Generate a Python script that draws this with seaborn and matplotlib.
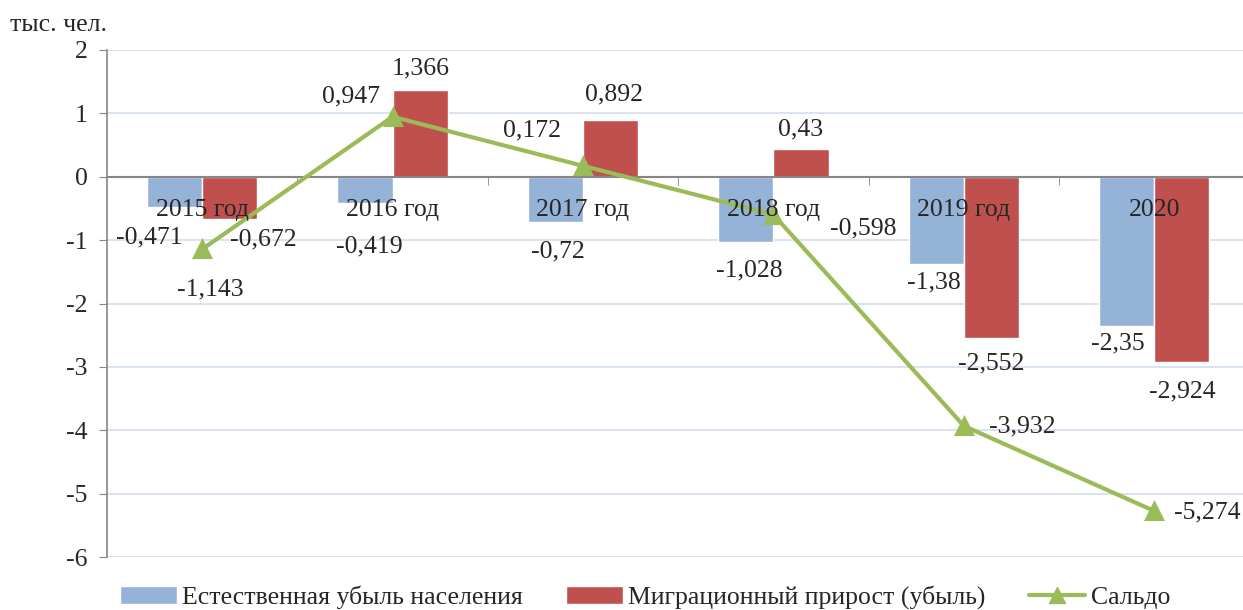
import pandas as pd
import matplotlib.pyplot as plt
from matplotlib.lines import Line2D
from matplotlib.patches import Patch
import numpy as np
import seaborn as sns

# data (тыс. чел.)
years = ['2015 год', '2016 год', '2017 год', '2018 год', '2019 год', '2020']
natural = [-0.471, -0.419, -0.72, -1.028, -1.38, -2.35]
migration = [-0.672, 1.366, 0.892, 0.43, -2.552, -2.924]
saldo = [-1.143, 0.947, 0.172, -0.598, -3.932, -5.274]
series_names = ['Естественная убыль населения', 'Миграционный прирост (убыль)', 'Сальдо']

blue = '#95B3D7'
red = '#C0504D'
green = '#9BBB59'
grey = '#868686'

# label offsets in pixels (dx, dy)
off_nat = [(-25, -31), (4, -43), (2, -29), (3, -29), (-2, -18), (-9, -18)]
off_mig = [(33, -20), (0, 22), (3, 26), (0, 20), (0, -25), (0, -29)]
off_sal = [(8, -40), (-42, 20), (-51, 35), (90, -14), (58, -1), (53, -1)]

df = pd.DataFrame({
    'year': years * 2,
    'value': natural + migration,
    'series': [series_names[0]] * len(years) + [series_names[1]] * len(years),
})

sns.set_style('white')
plt.rcParams['font.family'] = ['Liberation Serif', 'DejaVu Serif']
plt.rcParams['axes.unicode_minus'] = False
fs = 18.5

fig = plt.figure(figsize=(12.43, 6.10), dpi=100)
ax = fig.add_axes([107 / 1243, 53 / 610, 1136 / 1243, 507 / 610])

sns.barplot(data=df, x='year', y='value', hue='series', palette=[blue, red],
            width=0.58, saturation=1, dodge=True, legend=False, ax=ax, zorder=2)
sns.pointplot(x=years, y=saldo, color=green, markers='^', linestyles='-',
              markersize=12, linewidth=3, errorbar=None, ax=ax)
for ln in ax.lines:
    ln.set_zorder(4)

ax.set_xlim(-0.5, 5.466)
ax.set_ylim(-6, 2)
ax.set_yticks(range(-6, 3))
ax.set_xlabel('')
ax.set_ylabel('')

# grid drawn below the bars
ax.set_axisbelow(True)
ax.yaxis.grid(True, color='#D7E0EF', linewidth=1.3)
ax.xaxis.grid(False)

for s in ['top', 'right']:
    ax.spines[s].set_visible(False)
ax.spines['left'].set_color(grey)
ax.spines['bottom'].set_color(grey)
ax.spines['bottom'].set_position(('data', 0))
ax.spines['bottom'].set_zorder(3)
ax.spines['left'].set_linewidth(1.2)
ax.spines['bottom'].set_linewidth(1.5)

ax.tick_params(axis='y', left=True, length=6, color=grey, labelsize=fs, pad=8)
ax.set_xticks([])
ax.set_xticks(np.arange(len(years) - 1) + 0.5, minor=True)
ax.tick_params(axis='x', which='minor', bottom=True, length=6, color=grey, direction='out')

# category names just below zero line
for i, y in enumerate(years):
    ax.annotate(y, xy=(i, 0), xytext=(0, -33), textcoords='offset pixels',
                ha='center', va='center', fontsize=fs, zorder=6)

def fmt(v):
    return f'{v:g}'.replace('.', ',')

for cont, vals, offs in [(ax.containers[0], natural, off_nat), (ax.containers[1], migration, off_mig)]:
    for bar, v, (dx, dy) in zip(cont, vals, offs):
        xc = bar.get_x() + bar.get_width() / 2
        ax.annotate(fmt(v), xy=(xc, v), xytext=(dx, dy), textcoords='offset pixels',
                    ha='center', va='center', fontsize=fs, zorder=6)

for i, (v, (dx, dy)) in enumerate(zip(saldo, off_sal)):
    ax.annotate(fmt(v), xy=(i, v), xytext=(dx, dy), textcoords='offset pixels',
                ha='center', va='center', fontsize=fs, zorder=6)

fig.text(10 / 1243, 1 - 25 / 610, 'тыс. чел.', fontsize=18.5, ha='left', va='center')

handles = [Patch(facecolor=blue), Patch(facecolor=red),
           Line2D([], [], color=green, marker='^', lw=3, ms=12)]
fig.legend(handles, series_names, loc='center', bbox_to_anchor=(645 / 1243, 13 / 610),
           ncol=3, frameon=False, fontsize=fs, handlelength=2.2, handletextpad=0.2,
           columnspacing=1.7)

plt.savefig('out.png', dpi=100)
